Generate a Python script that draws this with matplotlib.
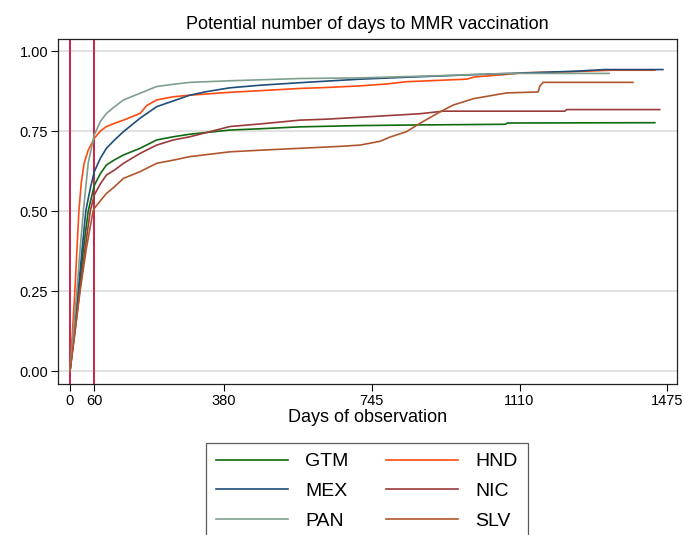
import matplotlib
matplotlib.use("Agg")
import matplotlib.pyplot as plt

plt.rcParams['font.family'] = ['Liberation Sans', 'DejaVu Sans']

# days / cumulative proportion vaccinated
gtm_days = [0, 11, 22, 33, 45, 60, 75, 90, 110, 132, 173, 214, 255, 296, 395, 469, 568, 716,
            864, 1075, 1080, 1444]
gtm_vals = [0, 0.12, 0.25, 0.38, 0.50, 0.58, 0.617, 0.644, 0.66, 0.675, 0.696, 0.722, 0.732,
            0.74, 0.753, 0.757, 0.763, 0.767, 0.769, 0.771, 0.775, 0.776]

hnd_days = [0, 6, 12, 18, 22, 28, 35, 45, 60, 75, 90, 110, 132, 173, 190, 214, 255, 296, 395,
            469, 568, 634, 716, 782, 831, 979, 1000, 1078, 1120, 1230, 1338, 1444]
hnd_vals = [0, 0.12, 0.25, 0.40, 0.50, 0.59, 0.65, 0.69, 0.727, 0.75, 0.764, 0.774, 0.784,
            0.805, 0.83, 0.847, 0.857, 0.862, 0.871, 0.876, 0.883, 0.886, 0.891, 0.897, 0.904,
            0.912, 0.919, 0.927, 0.932, 0.935, 0.94, 0.94]

mex_days = [0, 10, 20, 30, 39, 50, 60, 75, 90, 110, 132, 173, 214, 255, 296, 337, 395, 469,
            568, 716, 831, 996, 1160, 1250, 1320, 1464]
mex_vals = [0, 0.12, 0.25, 0.38, 0.50, 0.57, 0.623, 0.665, 0.696, 0.722, 0.748, 0.79, 0.826,
            0.844, 0.862, 0.873, 0.885, 0.893, 0.901, 0.912, 0.918, 0.926, 0.933, 0.937, 0.942,
            0.942]

nic_days = [0, 12, 24, 37, 50, 60, 75, 90, 110, 132, 173, 214, 255, 296, 395, 469, 568, 634,
            716, 864, 922, 1222, 1226, 1456]
nic_vals = [0, 0.12, 0.25, 0.38, 0.50, 0.55, 0.585, 0.6125, 0.628, 0.649, 0.68, 0.706, 0.722,
            0.732, 0.764, 0.772, 0.784, 0.787, 0.793, 0.804, 0.812, 0.812, 0.817, 0.817]

pan_days = [0, 8, 17, 25, 33, 45, 60, 75, 90, 110, 132, 173, 214, 255, 296, 395, 469, 568, 716,
            914, 1078, 1331]
pan_vals = [0, 0.12, 0.25, 0.38, 0.50, 0.65, 0.738, 0.78, 0.805, 0.826, 0.847, 0.868, 0.889,
            0.896, 0.902, 0.907, 0.91, 0.914, 0.916, 0.923, 0.93, 0.93]

slv_days = [0, 12, 25, 40, 57, 60, 75, 90, 110, 132, 173, 214, 255, 296, 395, 469, 568, 667,
            716, 766, 790, 831, 864, 914, 946, 996, 1078, 1156, 1160, 1168, 1390]
slv_vals = [0, 0.12, 0.25, 0.38, 0.50, 0.508, 0.532, 0.555, 0.576, 0.602, 0.623, 0.649, 0.659,
            0.67, 0.685, 0.69, 0.696, 0.702, 0.706, 0.718, 0.731, 0.748, 0.774, 0.81, 0.831,
            0.851, 0.869, 0.872, 0.89, 0.902, 0.902]

xticks = [0, 60, 380, 745, 1110, 1475]
yticks = [0, 0.25, 0.5, 0.75, 1.0]
vlines = [0, 60]

fig = plt.figure(figsize=(6.84, 5.35), dpi=100)
ax = fig.add_axes([0.0848, 0.2822, 0.905, 0.6449])

for y in yticks:
    ax.axhline(y, color='#dcdcdc', lw=1.2, zorder=0)
for x in vlines:
    ax.axvline(x, color='#c8103e', lw=1.3, zorder=1)

series = [
    ('GTM', gtm_days, gtm_vals, '#106a10'),
    ('HND', hnd_days, hnd_vals, '#ff4a10'),
    ('MEX', mex_days, mex_vals, '#1f4e79'),
    ('NIC', nic_days, nic_vals, '#9b3a3a'),
    ('PAN', pan_days, pan_vals, '#7f9e8e'),
    ('SLV', slv_days, slv_vals, '#b0562d'),
]
lines = {}
for name, d, v, c in series:
    lines[name], = ax.plot(d, v, color=c, lw=1.2, label=name, zorder=2)

ax.set_xlim(-29.6, 1498.8)
ax.set_ylim(-0.0406, 1.0375)
ax.set_xticks(xticks)
ax.set_yticks(yticks)
ax.set_yticklabels(['%.2f' % t for t in yticks])
ax.tick_params(direction='out', length=5, width=0.8, labelsize=10.5, pad=2)
for s in ax.spines.values():
    s.set_linewidth(0.9)
    s.set_color('#222222')

ax.set_title('Potential number of days to MMR vaccination', fontsize=13, pad=7)
ax.set_xlabel('Days of observation', fontsize=13, labelpad=1)

# matplotlib fills legend columns first, so reorder to get GTM HND / MEX NIC / PAN SLV rows
order = ['GTM', 'MEX', 'PAN', 'HND', 'NIC', 'SLV']
leg = fig.legend([lines[n] for n in order], order, ncol=2, loc='upper center',
                 bbox_to_anchor=(367 / 684, 1 - 443 / 535), borderaxespad=0, fontsize=14,
                 frameon=True, fancybox=False, handlelength=3.7, handletextpad=0.88,
                 columnspacing=1.95, labelspacing=0.62, borderpad=0.5)
leg.get_frame().set_edgecolor('#333333')
leg.get_frame().set_linewidth(0.9)

fig.savefig('out.png', dpi=100)
